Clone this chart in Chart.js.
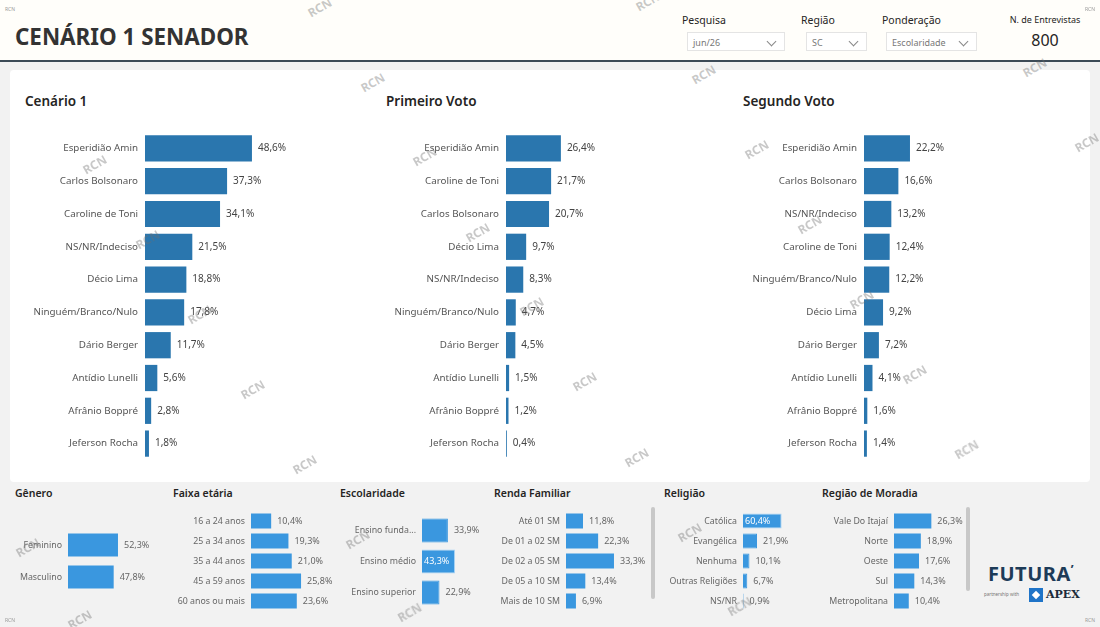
<!DOCTYPE html>
<html>
<head>
<meta charset="utf-8">
<script src="https://cdn.jsdelivr.net/npm/chart.js@4.4.1/dist/chart.umd.min.js"></script>
<style>
  body { margin: 0; width: 1100px; height: 627px; background: #f2f2f2; font-family: "Noto Sans", "Open Sans", sans-serif; overflow: hidden; position: relative; }
  .abs { position: absolute; }
  #header { left: 0; top: 0; width: 1100px; height: 60px; background: #fffefa; border-bottom: 2px solid #3d4b57; }
  #title { left: 15px; top: 21px; font-size: 22.4px; font-weight: bold; color: #333; }
  .flabel { font-size: 10.5px; color: #252423; }
  .dd { background: #fff; border: 1px solid #e4e4e4; height: 19px; font-size: 9px; color: #777; line-height: 19px; padding-left: 5px; box-sizing: border-box; }
  .chev { position: absolute; right: 9px; top: 5px; width: 6px; height: 6px; border-right: 1px solid #888; border-bottom: 1px solid #888; transform: rotate(45deg); }
  #card { left: 10px; top: 70px; width: 1080px; height: 412px; background: #fff; border-radius: 4px; }
  .ctitle { font-size: 13.5px; font-weight: 600; color: #252423; }
  .btitle { font-size: 10.5px; font-weight: 600; color: #252423; }
  .wm { font-size: 12px; font-weight: bold; color: rgba(110,110,110,0.38); transform: rotate(-30deg); transform-origin: center; }
  .tiny { font-size: 5px; color: #999; }
  .scroll { width: 4px; background: #c8c8c8; border-radius: 2px; }
</style>
</head>
<body>
<div id="header" class="abs"></div>
<div id="title" class="abs">CENÁRIO 1 SENADOR</div>

<div class="abs flabel" style="left:682px;top:13px;">Pesquisa</div>
<div class="abs dd" style="left:687px;top:32px;width:98px;">jun/26<span class="chev"></span></div>
<div class="abs flabel" style="left:801px;top:13px;">Região</div>
<div class="abs dd" style="left:806px;top:32px;width:61px;">SC<span class="chev"></span></div>
<div class="abs flabel" style="left:882px;top:13px;">Ponderação</div>
<div class="abs dd" style="left:886px;top:32px;width:91px;">Escolaridade<span class="chev"></span></div>
<div class="abs" style="left:1005px;top:13px;width:80px;text-align:center;font-size:9px;color:#252423;">N. de Entrevistas</div>
<div class="abs" style="left:1005px;top:29px;width:80px;text-align:center;font-size:16px;color:#252423;">800</div>

<div id="card" class="abs"></div>
<div class="abs ctitle" style="left:25px;top:92px;">Cenário 1</div>
<div class="abs ctitle" style="left:386px;top:92px;">Primeiro Voto</div>
<div class="abs ctitle" style="left:743px;top:92px;">Segundo Voto</div>

<canvas id="c1" class="abs" style="left:15px;top:132px;" width="345" height="328"></canvas>
<canvas id="c2" class="abs" style="left:376px;top:132px;" width="345" height="328"></canvas>
<canvas id="c3" class="abs" style="left:734px;top:132px;" width="346" height="328"></canvas>

<div class="abs btitle" style="left:15px;top:486px;">Gênero</div>
<div class="abs btitle" style="left:173px;top:486px;">Faixa etária</div>
<div class="abs btitle" style="left:340px;top:486px;">Escolaridade</div>
<div class="abs btitle" style="left:494px;top:486px;">Renda Familiar</div>
<div class="abs btitle" style="left:664px;top:486px;">Religião</div>
<div class="abs btitle" style="left:822px;top:486px;">Região de Moradia</div>

<canvas id="b1" class="abs" style="left:5px;top:529px;" width="160" height="64"></canvas>
<canvas id="b2" class="abs" style="left:165px;top:511px;" width="170" height="100"></canvas>
<canvas id="b3" class="abs" style="left:335px;top:515px;" width="155" height="93"></canvas>
<canvas id="b4" class="abs" style="left:490px;top:511px;" width="160" height="100"></canvas>
<canvas id="b5" class="abs" style="left:660px;top:511px;" width="155" height="100"></canvas>
<canvas id="b6" class="abs" style="left:815px;top:511px;" width="150" height="100"></canvas>

<div class="abs scroll" style="left:651px;top:507px;height:92px;"></div>
<div class="abs scroll" style="left:966px;top:507px;height:84px;"></div>

<div class="abs" style="left:988px;top:560px;font-size:20px;font-weight:bold;color:#1d3b58;letter-spacing:0.5px;">FUTURA<span style="font-size:13px;vertical-align:top;">’</span></div>
<div class="abs" style="left:984px;top:591px;font-size:4.5px;color:#777;">partnership with</div>
<div class="abs" style="left:1029px;top:588px;width:14px;height:14px;background:#1f74c8;"></div>
<div class="abs" style="left:1033px;top:592px;width:6px;height:6px;background:#fff;transform:rotate(45deg);"></div>
<div class="abs" style="left:1046px;top:588px;font-size:11px;font-weight:bold;font-family:'DejaVu Serif','Liberation Serif',serif;color:#1d2b3a;">APEX</div>

<div id="marks"></div>

<script>
// dados do cenário
const cen1Labels = ["Esperidião Amin", "Carlos Bolsonaro", "Caroline de Toni", "NS/NR/Indeciso", "Décio Lima", "Ninguém/Branco/Nulo", "Dário Berger", "Antídio Lunelli", "Afrânio Boppré", "Jeferson Rocha"];
const cen1Values = [48.6, 37.3, 34.1, 21.5, 18.8, 17.8, 11.7, 5.6, 2.8, 1.8];

const primLabels = ["Esperidião Amin", "Caroline de Toni", "Carlos Bolsonaro", "Décio Lima", "NS/NR/Indeciso", "Ninguém/Branco/Nulo", "Dário Berger", "Antídio Lunelli", "Afrânio Boppré", "Jeferson Rocha"];
const primValues = [26.4, 21.7, 20.7, 9.7, 8.3, 4.7, 4.5, 1.5, 1.2, 0.4];

const segLabels = ["Esperidião Amin", "Carlos Bolsonaro", "NS/NR/Indeciso", "Caroline de Toni", "Ninguém/Branco/Nulo", "Décio Lima", "Dário Berger", "Antídio Lunelli", "Afrânio Boppré", "Jeferson Rocha"];
const segValues = [22.2, 16.6, 13.2, 12.4, 12.2, 9.2, 7.2, 4.1, 1.6, 1.4];

const generoLabels = ["Feminino", "Masculino"];
const generoValues = [52.3, 47.8];

const faixaLabels = ["16 a 24 anos", "25 a 34 anos", "35 a 44 anos", "45 a 59 anos", "60 anos ou mais"];
const faixaValues = [10.4, 19.3, 21.0, 25.8, 23.6];

const escLabels = ["Ensino funda...", "Ensino médio", "Ensino superior"];
const escValues = [33.9, 43.3, 22.9];

const rendaLabels = ["Até 01 SM", "De 01 a 02 SM", "De 02 a 05 SM", "De 05 a 10 SM", "Mais de 10 SM"];
const rendaValues = [11.8, 22.3, 33.3, 13.4, 6.9];

const religLabels = ["Católica", "Evangélica", "Nenhuma", "Outras Religiões", "NS/NR"];
const religValues = [60.4, 21.9, 10.1, 6.7, 0.9];

const regiaoLabels = ["Vale Do Itajaí", "Norte", "Oeste", "Sul", "Metropolitana"];
const regiaoValues = [26.3, 18.9, 17.6, 14.3, 10.4];

const FONT = "'Noto Sans', 'Open Sans', sans-serif";

// rótulo de valor ao fim da barra
const valueLabels = {
    id: 'valueLabels',
    afterDatasetsDraw(chart, args, opts) {
        const c = chart.ctx;
        const meta = chart.getDatasetMeta(0);
        const vals = chart.data.datasets[0].data;
        c.save();
        c.font = opts.size + "px " + FONT;
        c.textBaseline = 'middle';
        c.textAlign = 'left';
        meta.data.forEach((bar, i) => {
            const txt = vals[i].toFixed(1).replace('.', ',') + '%';
            if (opts.inside && opts.inside.includes(i)) {
                c.fillStyle = '#ffffff';
                c.fillText(txt, bar.base + 2, bar.y);
            } else {
                c.fillStyle = opts.color;
                c.fillText(txt, bar.x + opts.offset, bar.y);
            }
        });
        c.restore();
    }
};

function makeBar(id, labels, values, o) {
    const colors = values.map(() => o.color);
    const borders = values.map((v, i) => (o.inside && o.inside.includes(i)) ? '#a9d4f5' : o.color);
    return new Chart(document.getElementById(id), {
        type: 'bar',
        data: {
            labels: labels,
            datasets: [{
                data: values,
                backgroundColor: colors,
                borderColor: borders,
                borderWidth: o.inside ? 1 : 0,
                barPercentage: o.bar,
                categoryPercentage: 1
            }]
        },
        options: {
            indexAxis: 'y',
            responsive: false,
            animation: false,
            layout: { padding: 0, autoPadding: false },
            plugins: {
                legend: { display: false },
                tooltip: { enabled: false },
                valueLabels: { size: o.vsize, color: o.vcolor, offset: o.offset, inside: o.inside }
            },
            scales: {
                x: { display: false, min: 0, max: o.max },
                y: {
                    grid: { display: false, drawTicks: false },
                    border: { display: false },
                    ticks: { padding: o.pad, color: o.lcolor, font: { size: o.lsize, family: FONT }, autoSkip: false },
                    afterFit: (scale) => {
                        scale.width = o.axisW;
                        scale.paddingTop = 0;
                        scale.paddingBottom = 0;
                    }
                }
            }
        },
        plugins: [valueLabels]
    });
}

const topOpts = { color: '#2a76ae', bar: 0.8, vsize: 10, vcolor: '#444', offset: 6, pad: 7, lcolor: '#555', lsize: 9.8, axisW: 130 };
makeBar('c1', cen1Labels, cen1Values, Object.assign({}, topOpts, { max: 97.7 }));
makeBar('c2', primLabels, primValues, Object.assign({}, topOpts, { max: 103.4 }));
makeBar('c3', segLabels, segValues, Object.assign({}, topOpts, { max: 104.3 }));

const botOpts = { color: '#3a97df', vsize: 9, vcolor: '#666', offset: 6, pad: 6, lcolor: '#666', lsize: 8.8 };
makeBar('b1', generoLabels, generoValues, Object.assign({}, botOpts, { bar: 0.72, axisW: 63, max: 101.5 }));
makeBar('b2', faixaLabels, faixaValues, Object.assign({}, botOpts, { bar: 0.75, axisW: 86, max: 43.3 }));
makeBar('b3', escLabels, escValues, Object.assign({}, botOpts, { bar: 0.77, axisW: 87, max: 89.0, inside: [1] }));
makeBar('b4', rendaLabels, rendaValues, Object.assign({}, botOpts, { bar: 0.75, axisW: 76, max: 58.3 }));
makeBar('b5', religLabels, religValues, Object.assign({}, botOpts, { bar: 0.75, axisW: 83, max: 112.5, inside: [0] }));
makeBar('b6', regiaoLabels, regiaoValues, Object.assign({}, botOpts, { bar: 0.75, axisW: 79, max: 50.0 }));

// marcas d'água RCN
const markPos = [[320, 8], [648, 2], [373, 83], [704, 75], [1035, 68], [95, 165], [425, 157], [757, 150], [1087, 143],
    [148, 240], [478, 233], [810, 225], [200, 315], [532, 307], [862, 300], [253, 390], [585, 382], [915, 375],
    [305, 465], [637, 458], [967, 450], [28, 548], [358, 540], [690, 533], [80, 620], [410, 613], [740, 607]];
const marks = document.getElementById('marks');
markPos.forEach(p => {
    const d = document.createElement('div');
    d.className = 'abs wm';
    d.style.left = (p[0] - 13) + 'px';
    d.style.top = (p[1] - 9) + 'px';
    d.textContent = 'RCN';
    marks.appendChild(d);
});
[[5, 6], [1085, 6], [5, 617], [1085, 617]].forEach(p => {
    const d = document.createElement('div');
    d.className = 'abs tiny';
    d.style.left = p[0] + 'px';
    d.style.top = p[1] + 'px';
    d.textContent = 'RCN';
    marks.appendChild(d);
});
</script>
</body>
</html>
